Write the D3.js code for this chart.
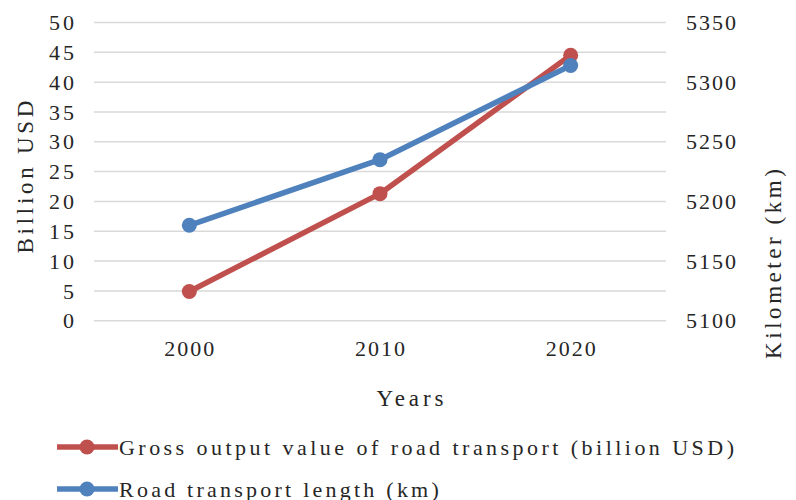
<!DOCTYPE html>
<html>
<head>
<meta charset="utf-8">
<script src="https://cdn.jsdelivr.net/npm/d3@7"></script>
<style>
  body { margin: 0; background: #fff; }
  text { font-family: "Liberation Serif", "DejaVu Serif", serif; fill: #262626; }
</style>
</head>
<body>
<div id="chart"></div>
<script>
var years = ["2000", "2010", "2020"]
var grossOutput = [4.9, 21.3, 44.5]        // billion USD, left axis
var roadLength = [5180, 5235, 5314]        // km, right axis
var leftTicks = [0, 5, 10, 15, 20, 25, 30, 35, 40, 45, 50]
var rightTicks = [5100, 5150, 5200, 5250, 5300, 5350]
var seriesNames = ["Gross output value of road transport (billion USD)", "Road transport length (km)"]
var seriesColors = ["#c0504d", "#4f81bd"]

var width = 796,
    height = 500,
    margin = { top: 22.5, right: 130, bottom: 179.3, left: 94 },
    plotW = width - margin.left - margin.right,
    plotH = height - margin.top - margin.bottom

// the original font is half-width monospace, so stretch texts to that pitch
function pitch(w) {
  return function(d) { return String(d).length * w }
}

var svg = d3.select("#chart").append("svg")
    .attr("width", width)
    .attr("height", height)

var g = svg.append("g")
    .attr("transform", "translate(" + margin.left + "," + margin.top + ")")

var x = d3.scaleBand().domain(years).range([0, plotW])
var yL = d3.scaleLinear().domain([0, 50]).range([plotH, 0])
var yR = d3.scaleLinear().domain([5100, 5350]).range([plotH, 0])

// gridlines
g.selectAll(".grid")
  .data(leftTicks)
  .enter().append("line")
    .attr("x1", 0)
    .attr("x2", plotW)
    .attr("y1", function(d) { return yL(d) })
    .attr("y2", function(d) { return yL(d) })
    .style("stroke", "#d9d9d9")
    .style("stroke-width", 1.5)

// left axis labels
g.selectAll(".lTick")
  .data(leftTicks)
  .enter().append("text")
    .attr("x", -20)
    .attr("y", function(d) { return yL(d) })
    .attr("dy", "0.35em")
    .attr("textLength", pitch(12.5))
    .attr("lengthAdjust", "spacing")
    .style("text-anchor", "end")
    .style("font-size", "22px")
    .text(function(d) { return d })

// right axis labels
g.selectAll(".rTick")
  .data(rightTicks)
  .enter().append("text")
    .attr("x", plotW + 20)
    .attr("y", function(d) { return yR(d) })
    .attr("dy", "0.35em")
    .attr("textLength", pitch(12.5))
    .attr("lengthAdjust", "spacing")
    .style("text-anchor", "start")
    .style("font-size", "22px")
    .text(function(d) { return d })

// x labels
g.selectAll(".xTick")
  .data(years)
  .enter().append("text")
    .attr("x", function(d) { return x(d) + x.bandwidth() / 2 })
    .attr("y", plotH + 28)
    .attr("dy", "0.35em")
    .attr("textLength", pitch(12.5))
    .attr("lengthAdjust", "spacing")
    .style("text-anchor", "middle")
    .style("font-size", "22px")
    .text(function(d) { return d })

// axis titles
svg.append("text")
  .attr("transform", "translate(25,177) rotate(-90)")
  .attr("dy", "0.35em")
  .attr("textLength", 153)
  .attr("lengthAdjust", "spacing")
  .style("text-anchor", "middle")
  .style("font-size", "23px")
  .text("Billion USD")

svg.append("text")
  .attr("transform", "translate(773,264) rotate(-90)")
  .attr("dy", "0.35em")
  .attr("textLength", 190)
  .attr("lengthAdjust", "spacing")
  .style("text-anchor", "middle")
  .style("font-size", "23px")
  .text("Kilometer (km)")

svg.append("text")
  .attr("x", 410)
  .attr("y", 398)
  .attr("dy", "0.35em")
  .attr("textLength", 67)
  .attr("lengthAdjust", "spacing")
  .style("text-anchor", "middle")
  .style("font-size", "23px")
  .text("Years")

// series
var series = [
  { name: seriesNames[0], color: seriesColors[0], values: grossOutput, y: yL },
  { name: seriesNames[1], color: seriesColors[1], values: roadLength, y: yR }
]

series.forEach(function(s) {
  var line = d3.line()
    .x(function(d, i) { return x(years[i]) + x.bandwidth() / 2 })
    .y(function(d) { return s.y(d) })

  g.append("path")
    .datum(s.values)
    .attr("d", line)
    .style("fill", "none")
    .style("stroke", s.color)
    .style("stroke-width", 5.5)
    .style("stroke-linejoin", "round")

  g.selectAll(null)
    .data(s.values)
    .enter().append("circle")
      .attr("cx", function(d, i) { return x(years[i]) + x.bandwidth() / 2 })
      .attr("cy", function(d) { return s.y(d) })
      .attr("r", 7.5)
      .style("fill", s.color)
})

// legend
var legend = svg.selectAll(".legend")
  .data(series)
  .enter().append("g")
    .attr("transform", function(d, i) { return "translate(57," + (447 + i * 42) + ")" })

legend.append("line")
  .attr("x1", 0)
  .attr("x2", 61)
  .style("stroke", function(d) { return d.color })
  .style("stroke-width", 5.5)

legend.append("circle")
  .attr("cx", 30)
  .attr("r", 7.5)
  .style("fill", function(d) { return d.color })

legend.append("text")
  .attr("x", 62)
  .attr("dy", "0.35em")
  .attr("textLength", function(d) { return d.name.length * 12.3 })
  .attr("lengthAdjust", "spacing")
  .style("font-size", "22px")
  .text(function(d) { return d.name })
</script>
</body>
</html>
